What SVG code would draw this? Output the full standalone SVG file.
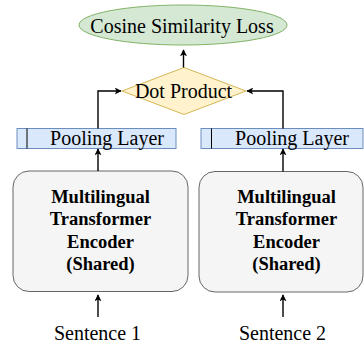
<svg xmlns="http://www.w3.org/2000/svg" width="364" height="345" viewBox="0 0 364 345">
<style>
text{font-family:"Liberation Serif","Times New Roman",serif;fill:#000;text-anchor:middle}
.t{font-size:20px}
.b{font-size:18.5px;font-weight:bold}
.c{fill:none;stroke:#000;stroke-width:1.4}
.pool{fill:#dae8fc;stroke:#6c8ebf;stroke-width:1}
.enc{fill:#f5f5f5;stroke:#666666;stroke-width:1}
</style>
<defs>
<marker id="ah" viewBox="0 0 10 10" refX="9" refY="5" markerWidth="7" markerHeight="7" markerUnits="userSpaceOnUse" orient="auto">
<path d="M0,0 L10,5 L0,10 L2.5,5 Z" fill="#000"/>
</marker>
</defs>
<g id="loss">
<ellipse cx="183" cy="25" rx="104" ry="20" fill="#d5e8d4" stroke="#82b366"/>
<text class="t" x="182" y="33">Cosine Similarity Loss</text>
</g>
<g id="dot">
<polygon points="122,91 184,67.5 246,91 184,114.5" fill="#fff2cc" stroke="#d6b656"/>
<text class="t" x="183.5" y="97.5">Dot Product</text>
</g>
<g id="pool1">
<rect class="pool" x="17" y="128.5" width="159" height="20"/>
<line x1="27" y1="128.5" x2="27" y2="148.5" stroke="#000" stroke-width="1"/>
<text class="t" x="107" y="145">Pooling Layer</text>
</g>
<g id="pool2">
<rect class="pool" x="201" y="128.5" width="162" height="20"/>
<line x1="211.5" y1="128.5" x2="211.5" y2="148.5" stroke="#000" stroke-width="1"/>
<text class="t" x="292" y="145">Pooling Layer</text>
</g>
<g id="enc1">
<rect class="enc" x="13" y="171" width="175" height="120.5" rx="16"/>
<text class="b" x="100.5" y="203">Multilingual</text>
<text class="b" x="100.5" y="225">Transformer</text>
<text class="b" x="100.5" y="248">Encoder</text>
<text class="b" x="100.5" y="270">(Shared)</text>
</g>
<g id="enc2">
<rect class="enc" x="199" y="171.5" width="164" height="120.5" rx="16"/>
<text class="b" x="286.5" y="203">Multilingual</text>
<text class="b" x="286.5" y="225">Transformer</text>
<text class="b" x="286.5" y="248">Encoder</text>
<text class="b" x="286.5" y="270">(Shared)</text>
</g>
<g id="s1"><text class="t" x="97.5" y="340">Sentence 1</text></g>
<g id="s2"><text class="t" x="282.5" y="340">Sentence 2</text></g>
<g id="connectors">
<path class="c" d="M183.5,67.5 V50" marker-end="url(#ah)"/>
<path class="c" d="M98,128.5 V91 H121" marker-end="url(#ah)"/>
<path class="c" d="M283,128.5 V91 H247" marker-end="url(#ah)"/>
<path class="c" d="M98,171 V149" marker-end="url(#ah)"/>
<path class="c" d="M283,171.5 V149" marker-end="url(#ah)"/>
<path class="c" d="M98,317 V295" marker-end="url(#ah)"/>
<path class="c" d="M283,317 V295" marker-end="url(#ah)"/>
</g>
</svg>
